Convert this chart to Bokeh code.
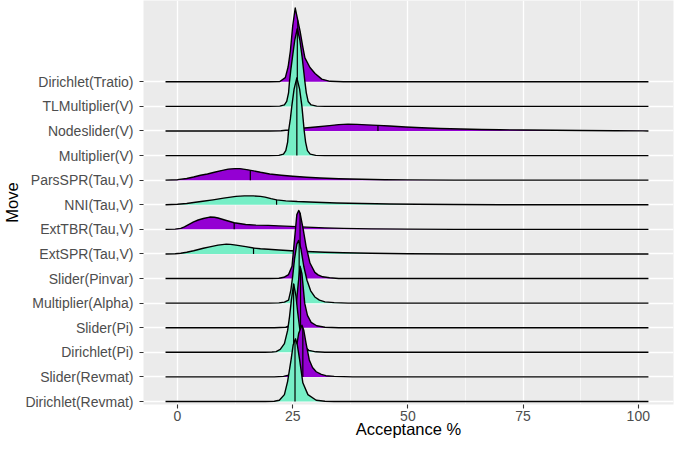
import numpy as np
from bokeh.plotting import figure
from bokeh.models import FixedTicker, Range1d
from bokeh.embed import file_html
from bokeh.resources import INLINE

# ---- data ----
moves = ["Dirichlet(Revmat)", "Slider(Revmat)", "Dirichlet(Pi)", "Slider(Pi)",
         "Multiplier(Alpha)", "Slider(Pinvar)", "ExtSPR(Tau,V)", "ExtTBR(Tau,V)",
         "NNI(Tau,V)", "ParsSPR(Tau,V)", "Multiplier(V)", "Nodeslider(V)",
         "TLMultiplier(V)", "Dirichlet(Tratio)"]

x_ticks = [0, 25, 50, 75, 100]

# ridge profiles: acceptance % (x) and scaled density height (h, in rows)
dirichlet_revmat_x = [-2.6, 19, 21, 22.1, 23.2, 23.9, 24.65, 25.1, 25.6, 26.0, 26.5, 27.2, 28.3, 30.1, 32, 34, 102.2]
dirichlet_revmat_h = [0, 0, 0.01, 0.05, 0.28, 0.82, 1.7, 2.3, 2.55, 2.3, 1.7, 0.76, 0.28, 0.05, 0.01, 0, 0]

slider_revmat_x = [-2.6, 21, 23, 24.3, 25.0, 25.7, 26.3, 27.0, 27.4, 27.9, 28.6, 29.3, 30.1, 31.2, 32.2, 34, 36, 38, 102.2]
slider_revmat_h = [0, 0, 0.02, 0.08, 0.35, 1.1, 1.77, 2.1, 1.9, 1.36, 0.69, 0.38, 0.21, 0.1, 0.05, 0.02, 0.01, 0, 0]

dirichlet_pi_x = [-2.6, 19, 20.5, 21.4, 22.3, 23.2, 23.9, 24.3, 24.7, 25.2, 25.7, 26.1, 26.5, 27.0, 27.6, 28.5, 30, 32, 102.2]
dirichlet_pi_h = [0, 0, 0.01, 0.03, 0.12, 0.35, 0.89, 1.43, 2.1, 2.78, 2.3, 1.6, 1.0, 0.5, 0.22, 0.08, 0.02, 0, 0]

slider_pi_x = [-2.6, 21, 23.5, 24.6, 25.3, 25.8, 26.2, 26.6, 27.0, 27.6, 28.2, 29.0, 30.2, 32, 35, 102.2]
slider_pi_h = [0, 0, 0.02, 0.1, 0.4, 1.0, 1.8, 2.5, 2.2, 1.0, 0.5, 0.22, 0.08, 0.02, 0, 0]

multiplier_alpha_x = [-2.6, 20, 22, 23.2, 24.1, 24.6, 25.0, 25.4, 25.9, 26.3, 26.8, 27.4, 28.1, 28.9, 29.8, 30.8, 32.0, 34, 37, 102.2]
multiplier_alpha_h = [0, 0, 0.01, 0.04, 0.12, 0.53, 1.1, 1.8, 2.4, 2.55, 2.2, 1.5, 0.93, 0.5, 0.25, 0.12, 0.05, 0.02, 0, 0]

slider_pinvar_x = [-2.6, 20, 22, 23.1, 24.1, 24.85, 25.2, 25.6, 25.9, 26.3, 26.6, 27.3, 27.9, 28.75, 29.8, 30.5, 31.5, 33, 35, 102.2]
slider_pinvar_h = [0, 0, 0.01, 0.05, 0.16, 0.5, 1.2, 2.0, 2.6, 2.77, 2.66, 1.98, 1.31, 0.63, 0.25, 0.15, 0.07, 0.03, 0, 0]

extspr_x = [-2.6, -0.5, 0.7, 2, 3.5, 5.6, 7, 8.8, 10.6, 11.5, 12.7, 14.8, 16.5, 18, 19.7, 22, 24.6, 28, 32, 36, 42, 50, 60, 102.2]
extspr_h = [0, 0.01, 0.03, 0.07, 0.13, 0.23, 0.29, 0.36, 0.4, 0.39, 0.36, 0.3, 0.24, 0.21, 0.19, 0.16, 0.13, 0.1, 0.07, 0.05, 0.03, 0.01, 0, 0]

exttbr_x = [-2.6, -0.5, 0.7, 1.5, 2.1, 3.5, 4.5, 5.6, 7.0, 8.0, 8.8, 10.6, 12.3, 14.8, 17, 19.7, 22, 24.6, 28, 32, 36, 42, 50, 60, 102.2]
exttbr_h = [0, 0.01, 0.04, 0.1, 0.16, 0.3, 0.38, 0.44, 0.5, 0.49, 0.46, 0.36, 0.27, 0.2, 0.17, 0.16, 0.14, 0.12, 0.09, 0.06, 0.04, 0.02, 0.01, 0, 0]

nni_x = [-2.6, 0, 2, 3.5, 5.5, 7.7, 10, 12.7, 14.5, 16.5, 18, 19, 20.3, 21.5, 23.5, 26, 30, 34.5, 40, 46, 52, 60, 70, 102.2]
nni_h = [0, 0.02, 0.05, 0.09, 0.14, 0.2, 0.27, 0.34, 0.36, 0.36, 0.34, 0.31, 0.25, 0.2, 0.16, 0.13, 0.1, 0.07, 0.05, 0.03, 0.02, 0.01, 0, 0]

parsspr_x = [-2.6, 0, 2, 3.5, 5, 6.5, 8, 9.5, 11, 12.5, 13.5, 15, 16.5, 18, 20, 22.5, 25, 28, 31, 35, 40, 45, 50, 60, 102.2]
parsspr_h = [0, 0.02, 0.07, 0.13, 0.2, 0.25, 0.32, 0.39, 0.45, 0.47, 0.47, 0.43, 0.38, 0.32, 0.25, 0.2, 0.16, 0.12, 0.09, 0.06, 0.035, 0.02, 0.01, 0, 0]

multiplier_v_x = [-2.6, 20, 22, 23, 23.5, 23.9, 24.1, 24.5, 24.8, 25.3, 25.9, 26.5, 27.0, 27.25, 27.5, 27.8, 28.2, 28.8, 30, 32, 102.2]
multiplier_v_h = [0, 0, 0.01, 0.06, 0.2, 0.55, 1.0, 1.5, 2.0, 2.7, 3.16, 2.7, 2.0, 1.5, 1.0, 0.55, 0.2, 0.06, 0.01, 0, 0]

nodeslider_x = [-2.6, 20, 22.5, 24, 25.5, 27.6, 30, 33, 35, 37, 39, 41, 43.5, 46, 49.5, 53, 57, 61.5, 66, 70, 75.6, 82, 88, 95, 101, 102.2]
nodeslider_h = [0, 0, 0.01, 0.04, 0.08, 0.12, 0.16, 0.22, 0.26, 0.28, 0.27, 0.25, 0.23, 0.2, 0.16, 0.13, 0.1, 0.08, 0.06, 0.05, 0.04, 0.03, 0.02, 0.01, 0.005, 0]

tlmultiplier_v_x = [-2.6, 20, 22.2, 23.2, 23.7, 24.1, 24.3, 24.6, 24.95, 25.45, 26.0, 26.55, 27.05, 27.35, 27.65, 27.95, 28.35, 29, 30.2, 32, 102.2]
tlmultiplier_v_h = [0, 0, 0.01, 0.06, 0.2, 0.55, 1.0, 1.5, 2.0, 2.7, 3.16, 2.7, 2.0, 1.5, 1.0, 0.55, 0.2, 0.06, 0.01, 0, 0]

dirichlet_tratio_x = [-2.6, 20, 22.2, 23.4, 24.0, 24.5, 25.0, 25.55, 26.6, 27.15, 27.65, 28.75, 29.85, 31.3, 33.1, 36, 102.2]
dirichlet_tratio_h = [0, 0, 0.01, 0.17, 0.6, 1.26, 2.27, 3.0, 2.06, 1.46, 0.97, 0.58, 0.34, 0.11, 0.02, 0, 0]

medians = [25.5, 27.2, 25.2, 26.7, 26.4, 26.6, 16.5, 12.3, 21.5, 15.8, 25.9, 43.5, 26.0, 26.1]

ridges_x = [dirichlet_revmat_x, slider_revmat_x, dirichlet_pi_x, slider_pi_x, multiplier_alpha_x,
            slider_pinvar_x, extspr_x, exttbr_x, nni_x, parsspr_x, multiplier_v_x, nodeslider_x,
            tlmultiplier_v_x, dirichlet_tratio_x]
ridges_h = [dirichlet_revmat_h, slider_revmat_h, dirichlet_pi_h, slider_pi_h, multiplier_alpha_h,
            slider_pinvar_h, extspr_h, exttbr_h, nni_h, parsspr_h, multiplier_v_h, nodeslider_h,
            tlmultiplier_v_h, dirichlet_tratio_h]

# ---- styling ----
palette = ["#76EEC6", "#9400D3"]
FONT = "Liberation Sans"

rows = list(range(1, len(moves) + 1))

# frame: top 0, bottom 404 px; row 1 baseline at 401 px, row 14 at 81.3 px
row_px = (401.0 - 81.3) / 13.0
y_lo = 1 - (404.0 - 401.0) / row_px
y_hi = 14 + 81.3 / row_px

p = figure(width=675, height=441, output_backend="svg", toolbar_location=None,
           x_range=Range1d(-7.38, 107.64), y_range=Range1d(y_lo, y_hi),
           min_border_left=143, min_border_right=2, min_border_top=0, min_border_bottom=37)
p.background_fill_color = "#EBEBEB"
p.border_fill_color = "white"
p.outline_line_color = None

p.xaxis.ticker = FixedTicker(ticks=x_ticks, minor_ticks=[12.5, 37.5, 62.5, 87.5])
p.yaxis.ticker = FixedTicker(ticks=rows)
p.yaxis.major_label_overrides = {r: m for r, m in zip(rows, moves)}
p.xgrid.grid_line_color = "white"
p.xgrid.grid_line_width = 1.3
p.xgrid.minor_grid_line_color = "white"
p.xgrid.minor_grid_line_width = 0.6
p.ygrid.grid_line_color = "white"
p.ygrid.grid_line_width = 1.3

for ax in (p.xaxis, p.yaxis):
    ax.axis_line_color = None
    ax.major_tick_line_color = "#333333"
    ax.major_tick_line_width = 1.1
    ax.major_tick_in = 0
    ax.major_tick_out = 4
    ax.minor_tick_line_color = None
    ax.major_label_text_color = "#4D4D4D"
    ax.major_label_text_font = FONT
    ax.major_label_text_font_size = "14px"
    ax.axis_label_text_font = FONT
    ax.axis_label_text_font_size = "16.5px"
    ax.axis_label_text_font_style = "normal"
    ax.axis_label_text_color = "black"

p.yaxis.major_label_standoff = 6
p.yaxis.axis_label_standoff = 1
p.yaxis.axis_label = "Move"
p.xaxis.major_label_standoff = 2
p.xaxis.axis_label_standoff = -4
p.xaxis.axis_label = "Acceptance %"

# ridges: top rows first so lower ridges overlay them
for i in reversed(range(len(moves))):
    r = rows[i]
    xs = np.array(ridges_x[i], dtype=float)
    hs = np.array(ridges_h[i], dtype=float)
    ys = r + hs
    px = np.concatenate([xs, xs[::-1]])
    py = np.concatenate([ys, np.full(len(xs), r, dtype=float)])
    p.patch(px, py, fill_color=palette[i % 2], line_color=None)
    m = medians[i]
    top = r + float(np.interp(m, xs, hs))
    p.segment(x0=[m], y0=[r], x1=[m], y1=[top], line_color="black", line_width=1.2)
    p.line(xs, ys, line_color="black", line_width=1.4, line_join="round")

open("out.html", "w").write(file_html(p, INLINE))
